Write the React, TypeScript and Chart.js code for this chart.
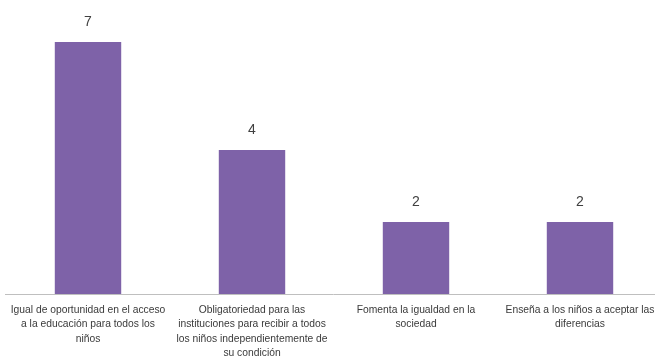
import React, { useEffect, useRef } from "react";
import { Chart, registerables } from "chart.js";

Chart.register(...registerables);

const categories: string[][] = [
  ["Igual de oportunidad en el acceso", "a la educación para todos los", "niños"],
  ["Obligatoriedad para las", "instituciones para recibir a todos", "los niños independientemente de", "su condición"],
  ["Fomenta la igualdad en la", "sociedad"],
  ["Enseña a los niños a aceptar las", "diferencias"],
];
const values: number[] = [7, 4, 2, 2];
const yMax = 8;

const BAR_COLOR = "#7E62A8";
const TEXT_COLOR = "#404040";

const overlay = {
  id: "overlay",
  afterDraw(chart: any) {
    const ctx = chart.ctx;
    const area = chart.chartArea;
    const xs = chart.scales.x;
    const meta = chart.getDatasetMeta(0);
    ctx.save();
    // axis line
    ctx.strokeStyle = "#BFBFBF";
    ctx.lineWidth = 1;
    ctx.beginPath();
    ctx.moveTo(area.left - 1, Math.round(area.bottom) + 0.5);
    ctx.lineTo(area.right, Math.round(area.bottom) + 0.5);
    ctx.stroke();
    // value labels
    ctx.fillStyle = TEXT_COLOR;
    ctx.textAlign = "center";
    ctx.textBaseline = "middle";
    ctx.font = "14px 'Liberation Sans', Arial, sans-serif";
    meta.data.forEach((bar: any, i: number) => {
      ctx.fillText(String(values[i]), bar.x, bar.y - 20);
    });
    // category labels
    ctx.fillStyle = "#3a3a3a";
    ctx.font = "10.3px 'Liberation Sans', Arial, sans-serif";
    categories.forEach((lines, i) => {
      const cx = xs.getPixelForValue(i);
      lines.forEach((line, j) => {
        ctx.fillText(line, cx, area.bottom + 16 + j * 14.5);
      });
    });
    ctx.restore();
  },
};

export default function App() {
  const ref = useRef<HTMLCanvasElement>(null);
  useEffect(() => {
    const chart = new Chart(ref.current!, {
      type: "bar",
      data: {
        labels: categories.map((c) => c.join(" ")),
        datasets: [
          {
            data: values,
            backgroundColor: BAR_COLOR,
            borderWidth: 0,
            barPercentage: 0.405,
            categoryPercentage: 1,
          },
        ],
      },
      options: {
        animation: false,
        responsive: false,
        maintainAspectRatio: false,
        layout: { padding: { top: 6, bottom: 64, left: 6, right: 0 } },
        plugins: { legend: { display: false }, tooltip: { enabled: false } },
        scales: {
          x: { display: false },
          y: { display: false, min: 0, max: yMax },
        },
      },
      plugins: [overlay],
    });
    return () => chart.destroy();
  }, []);
  return (
    <div style={{ position: "fixed", left: 0, top: 0, width: 655, height: 358, overflow: "hidden", background: "#fff" }}>
      <canvas ref={ref} width={662} height={358} style={{ width: 662, height: 358, display: "block" }} />
    </div>
  );
}
